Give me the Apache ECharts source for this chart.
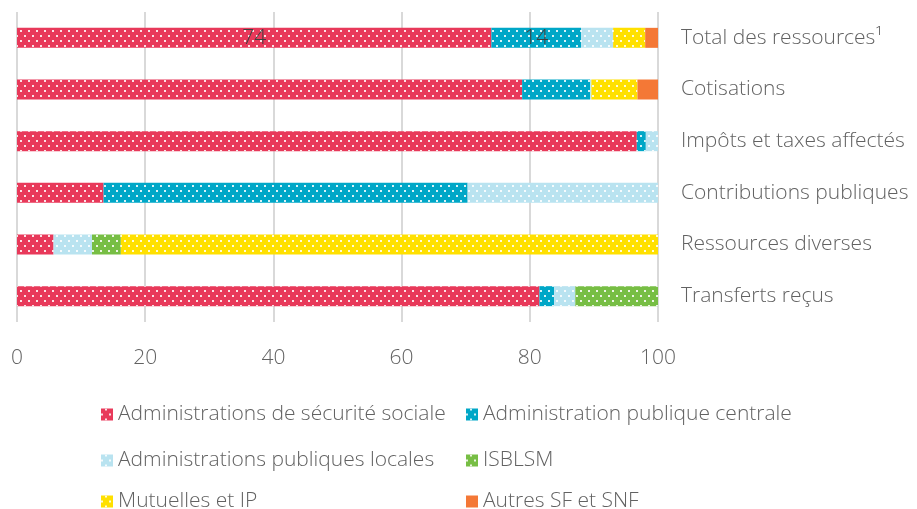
<!DOCTYPE html>
<html>
<head>
<meta charset="utf-8">
<script src="https://cdn.jsdelivr.net/npm/echarts@6/dist/echarts.min.js"></script>
<style>
  html, body { margin: 0; padding: 0; background: #fff; }
  #main { width: 917px; height: 509px; }
</style>
</head>
<body>
<div id="main"></div>
<script>
// categories, top to bottom
var categories = ['Total des ressources¹', 'Cotisations', 'Impôts et taxes affectés',
  'Contributions publiques', 'Ressources diverses', 'Transferts reçus']

// shares in % per sector
var secuSociale = [74, 78.8, 96.7, 13.5, 5.7, 81.5]
var apuCentrale = [14, 10.6, 1.4, 56.8, 0, 2.3]
var apuLocales = [5, 0.2, 1.9, 29.7, 6.0, 3.3]
var isblsm = [0, 0, 0, 0, 4.5, 12.9]
var mutuelles = [5, 7.2, 0, 0, 83.8, 0]
var autres = [2, 3.2, 0, 0, 0, 0]

var xTicks = [0, 20, 40, 60, 80, 100]

var names = ['Administrations de sécurité sociale', 'Administration publique centrale',
  'Administrations publiques locales', 'ISBLSM', 'Mutuelles et IP', 'Autres SF et SNF']
var colors = ['#E8395A', '#00A7C7', '#B9E3F0', '#77BE44', '#FFE000', '#F47836']
var values = [secuSociale, apuCentrale, apuLocales, isblsm, mutuelles, autres]

var font = '"Open Sans", "Noto Sans", sans-serif'
var textColor = '#626262'

// motif à pois blancs
var dots = {
  symbol: 'rect',
  symbolSize: 1,
  color: 'rgba(255,255,255,0.85)',
  dashArrayX: [[2, 6], [0, 4, 2, 2]],
  dashArrayY: [2, 2.5],
  rotation: 0
}

var series = values.map(function (arr, i) {
  return {
    name: names[i],
    type: 'bar',
    stack: 'total',
    barWidth: 20,
    itemStyle: {
      color: colors[i],
      decal: i === 5 ? { symbol: 'none' } : dots
    },
    data: arr.map(function (v, j) {
      if (j === 0 && i < 2) {
        return {
          value: v,
          label: {
            show: true, position: 'inside', color: '#404040',
            fontSize: 21, fontFamily: font, fontWeight: 300
          }
        }
      }
      return v
    })
  }
})

var legendText = { fontSize: 21, color: textColor, fontFamily: font, fontWeight: 300 }

// une légende par entrée, placée en grille 2 colonnes x 3 lignes
var legendLeft = [101, 466]
var legendTop = [404, 450, 491]
var legends = names.map(function (n, i) {
  return {
    data: [n],
    left: legendLeft[i % 2],
    top: legendTop[Math.floor(i / 2)],
    padding: 0,
    itemWidth: 12, itemHeight: 12, itemGap: 6,
    icon: 'rect', textStyle: legendText
  }
})

var myChart = echarts.init(document.getElementById('main'))
myChart.setOption({
  animation: false,
  aria: { enabled: true, decal: { show: true } },
  grid: { left: 17, right: 259, top: 12, bottom: 187 },
  xAxis: {
    type: 'value',
    min: 0,
    max: 100,
    interval: 20,
    axisLine: { show: false },
    axisTick: { show: false },
    splitLine: { lineStyle: { color: '#D9D9D9', width: 2 } },
    axisLabel: {
      margin: 26, fontSize: 21, color: textColor, fontFamily: font, fontWeight: 300,
      formatter: function (v) { return xTicks.indexOf(v) >= 0 ? String(v) : '' }
    }
  },
  yAxis: {
    type: 'category',
    inverse: true,
    position: 'right',
    data: categories,
    axisLine: { show: false },
    axisTick: { show: false },
    axisLabel: { margin: 23, fontSize: 21, color: textColor, fontFamily: font, fontWeight: 300 }
  },
  legend: legends,
  series: series
})
</script>
</body>
</html>
